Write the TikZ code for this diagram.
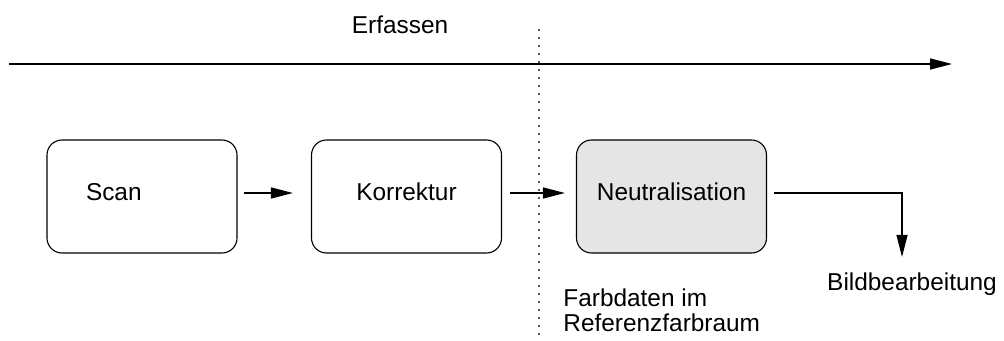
\documentclass[tikz,border=0pt]{standalone}
\usepackage{fontspec}
\setmainfont{Liberation Sans}
\usetikzlibrary{arrows.meta}
\definecolor{neutrgray}{gray}{0.9}

\begin{document}
\begin{tikzpicture}[x=0.5pt,y=-0.5pt,font=\fontsize{12.2}{12.5}\selectfont,
	stage/.style={draw,line width=0.55pt,rounded corners=7.5pt,minimum width=95pt,
		minimum height=56.5pt,text height=9pt,text depth=5pt,inner sep=0pt},
	flow/.style={line width=0.7pt,-{Triangle[length=11pt,width=5.5pt]}}]
\useasboundingbox (0,0) rectangle (1004,341);
% Zeitachse
\coordinate (t0) at (9,64);
\coordinate (t1) at (952,64);
\draw[flow,line width=0.75pt] (t0) -- (t1);
\node[anchor=base] (erf) at (400,34) {Erfassen};
\coordinate (sepTop) at (539,29);
\coordinate (sepBot) at (539,341);
\draw[gray!70!black,line width=0.7pt,dash pattern=on 1pt off 3pt] (sepTop) -- (sepBot);
% Stufen
\node[stage,text width=56pt,align=left] (scan) at (142,196.5) {Scan};
\node[stage] (korr) at (406.5,196.5) {Korrektur};
\node[stage,fill=neutrgray] (neutr) at (671.5,196.5) {Neutralisation};
\node[anchor=base,inner sep=0pt] (bild) at (912,290) {Bildbearbeitung};
\node[anchor=north west,inner sep=0pt,align=left] (farb) at (563,288) {Farbdaten im\\Referenzfarbraum};
\draw[flow] ([xshift=3pt,yshift=1.75pt]scan.east) -- ([xshift=-9pt,yshift=1.75pt]korr.west);
\draw[flow] ([xshift=4pt,yshift=1.75pt]korr.east) -- ([xshift=-5.5pt,yshift=1.75pt]neutr.west);
\draw[flow,shorten >=7.5pt] ([xshift=3.5pt,yshift=1.75pt]neutr.east) -| ([xshift=-5pt]bild.north);
\end{tikzpicture}
\end{document}
